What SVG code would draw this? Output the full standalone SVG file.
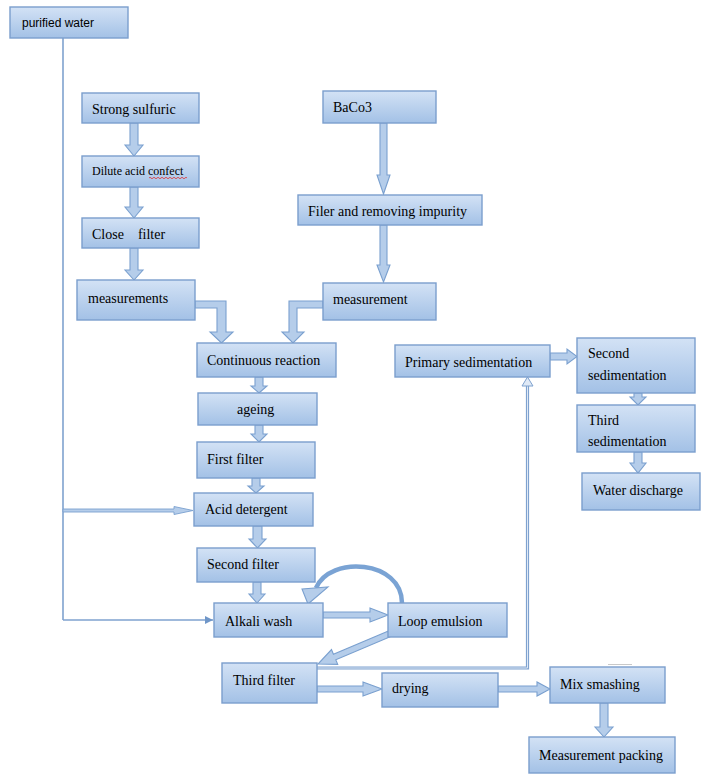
<svg xmlns="http://www.w3.org/2000/svg" width="714" height="780" viewBox="0 0 714 780">
<defs>
<linearGradient id="g" x1="0" y1="0" x2="0" y2="1">
<stop offset="0" stop-color="#d3e2f5"/>
<stop offset="1" stop-color="#a3c1e6"/>
</linearGradient>
<marker id="tri" viewBox="0 0 10 10" refX="10" refY="5" markerWidth="8" markerHeight="8" markerUnits="userSpaceOnUse" orient="auto">
<path d="M0,0 L10,5 L0,10 z" fill="#6f96c8"/>
</marker>
</defs>
<style>
.box{fill:url(#g);stroke:#7b9ecd;stroke-width:1.4}
.t{font-family:"Liberation Serif","Times New Roman",serif;font-size:14px;fill:#000}
.ts{font-family:"Liberation Sans",Arial,sans-serif;font-size:12px;fill:#000}
.ba{fill:#b5cdea;stroke:#7aa0cf;stroke-width:1.1;stroke-linejoin:miter}
.ln{fill:none;stroke:#7fa2cf;stroke-width:1.6}
</style>
<rect width="714" height="780" fill="#ffffff"/>

<g id="connectors">
<!-- purified water trunk -->
<polyline class="ln" points="63,38 63,620"/>
<!-- to Acid detergent (thin hollow arrow) -->
<polygon class="ba" points="63,509 174,509 174,506.5 193,510.5 174,514.5 174,512 63,512" style="stroke-width:0.9"/>
<!-- to Alkali wash -->
<line class="ln" x1="63" y1="620" x2="213" y2="620" marker-end="url(#tri)"/>

<!-- vertical small block arrows left column -->
<polygon class="ba" points="130,123 138,123 138,145 143,145 134,156 125,145 130,145"/>
<polygon class="ba" points="130,187 138,187 138,207 143,207 134,218 125,207 130,207"/>
<polygon class="ba" points="130,248 138,248 138,270 143,270 134,280 125,270 130,270"/>

<!-- BaCo3 column -->
<polygon class="ba" points="380,123 387,123 387,175 390,175 383.5,194 377,175 380,175"/>
<polygon class="ba" points="380,225 387,225 387,265 390,265 383.5,282 377,265 380,265"/>

<!-- elbow arrows into Continuous reaction -->
<polygon class="ba" points="195,301 226,301 226,332 233,332 221.5,343 210,332 217,332 217,308 195,308"/>
<polygon class="ba" points="323,301 289,301 289,332 282,332 293,343 304,332 297,332 297,308 323,308"/>

<!-- centre column -->
<polygon class="ba" points="255,377 263,377 263,386 267,386 259,393 251,386 255,386"/>
<polygon class="ba" points="255,425 263,425 263,434 267,434 259,442 251,434 255,434"/>
<polygon class="ba" points="252,478 260,478 260,486 264,486 256,493 248,486 252,486"/>
<polygon class="ba" points="253,526 262,526 262,539 266,539 257.5,548 249,539 253,539"/>
<polygon class="ba" points="253,582 261,582 261,594 265,594 257,603 249,594 253,594"/>

<!-- Alkali wash -> Loop emulsion -->
<polygon class="ba" points="323,612 370,612 370,608 388,615 370,622 370,618 323,618"/>

<!-- Loop emulsion -> Alkali wash (curved) -->
<path d="M402,603 C402,560 330,555 316,588" fill="none" stroke="#7aa3d4" stroke-width="4.5"/>
<polygon class="ba" points="302,589 328,587 308,604"/>

<!-- Loop emulsion -> Third filter (diagonal) -->
<polygon class="ba" points="387.8,631.2 333.4,654.2 331.5,649.6 318,664 337.7,664.4 335.8,659.8 390.2,636.8"/>

<!-- Third filter -> Primary sedimentation -->
<polyline points="317,668 527.5,668 527.5,379" fill="none" stroke="#7fa2cf" stroke-width="3.2"/>
<polyline points="317,668 527.5,668 527.5,380" fill="none" stroke="#dfe9f6" stroke-width="1"/>
<polygon points="522,386 527.5,377 533,386" fill="#dfe9f6" stroke="#7fa2cf" stroke-width="1"/>

<!-- faint stray line -->
<line x1="608" y1="664.5" x2="632" y2="664.5" stroke="#c9c9c9" stroke-width="1"/>

<!-- Third filter -> drying -->
<polygon class="ba" points="317,686 363,686 363,682 382,689 363,696 363,692 317,692"/>
<!-- drying -> Mix smashing -->
<polygon class="ba" points="498,686 537,686 537,682 550,689 537,696 537,692 498,692"/>
<!-- Mix smashing -> Measurement packing -->
<polygon class="ba" points="600,703 608,703 608,727 613,727 604,737 595,727 600,727"/>

<!-- sedimentation chain -->
<polygon class="ba" points="550,353 567,353 567,349 577,356.5 567,364 567,360 550,360"/>
<polygon class="ba" points="634,393 642,393 642,397 646,397 638,405 630,397 634,397"/>
<polygon class="ba" points="634,452 642,452 642,463 646,463 638,473 630,463 634,463"/>
</g>

<g id="n-purified-water"><rect class="box" x="10" y="7" width="118" height="31"/><text class="ts" x="22" y="27">purified water</text></g>
<g id="n-strong-sulfuric"><rect class="box" x="82" y="93" width="117" height="30"/><text class="t" x="92" y="114">Strong sulfuric</text></g>
<g id="n-dilute-acid"><rect class="box" x="82" y="156" width="117" height="31"/><text class="t" x="92" y="175" style="font-size:12px">Dilute acid confect</text><path d="M149,178 q1,-1.5 2,0 t2,0 t2,0 t2,0 t2,0 t2,0 t2,0 t2,0 t2,0 t2,0 t2,0 t2,0 t2,0 t2,0 t2,0 t2,0 t2,0 t2,0 t2,0" fill="none" stroke="#e03030" stroke-width="0.8"/></g>
<g id="n-close-filter"><rect class="box" x="82" y="218" width="117" height="30"/><text class="t" x="92" y="239" xml:space="preserve">Close    filter</text></g>
<g id="n-measurements"><rect class="box" x="77" y="280" width="118" height="40"/><text class="t" x="88" y="303">measurements</text></g>
<g id="n-baco3"><rect class="box" x="323" y="91" width="113" height="32"/><text class="t" x="333" y="112">BaCo3</text></g>
<g id="n-filer"><rect class="box" x="298" y="195" width="184" height="30"/><text class="t" x="308" y="216">Filer and removing impurity</text></g>
<g id="n-measurement"><rect class="box" x="323" y="283" width="113" height="37"/><text class="t" x="333" y="304">measurement</text></g>
<g id="n-continuous-reaction"><rect class="box" x="197" y="343" width="139" height="34"/><text class="t" x="207" y="365">Continuous reaction</text></g>
<g id="n-ageing"><rect class="box" x="198" y="393" width="119" height="32"/><text class="t" x="237" y="414">ageing</text></g>
<g id="n-first-filter"><rect class="box" x="197" y="442" width="118" height="36"/><text class="t" x="207" y="464">First filter</text></g>
<g id="n-acid-detergent"><rect class="box" x="194" y="493" width="119" height="33"/><text class="t" x="205" y="514">Acid detergent</text></g>
<g id="n-second-filter"><rect class="box" x="197" y="548" width="118" height="34"/><text class="t" x="207" y="569">Second filter</text></g>
<g id="n-alkali-wash"><rect class="box" x="214" y="603" width="109" height="34"/><text class="t" x="225" y="626">Alkali wash</text></g>
<g id="n-loop-emulsion"><rect class="box" x="388" y="603" width="119" height="34"/><text class="t" x="398" y="626">Loop emulsion</text></g>
<g id="n-third-filter"><rect class="box" x="222" y="663" width="95" height="40"/><text class="t" x="233" y="685">Third filter</text></g>
<g id="n-drying"><rect class="box" x="382" y="673" width="116" height="34"/><text class="t" x="392" y="693">drying</text></g>
<g id="n-mix-smashing"><rect class="box" x="550" y="667" width="115" height="36"/><text class="t" x="560" y="689">Mix smashing</text></g>
<g id="n-measurement-packing"><rect class="box" x="529" y="737" width="146" height="36"/><text class="t" x="539" y="760">Measurement packing</text></g>
<g id="n-primary-sedimentation"><rect class="box" x="395" y="345" width="155" height="32"/><text class="t" x="405" y="367">Primary sedimentation</text></g>
<g id="n-second-sedimentation"><rect class="box" x="577" y="338" width="118" height="55"/><text class="t" x="588" y="358">Second</text><text class="t" x="588" y="380">sedimentation</text></g>
<g id="n-third-sedimentation"><rect class="box" x="577" y="405" width="118" height="47"/><text class="t" x="588" y="425">Third</text><text class="t" x="588" y="446">sedimentation</text></g>
<g id="n-water-discharge"><rect class="box" x="582" y="473" width="118" height="37"/><text class="t" x="593" y="495">Water discharge</text></g>
</svg>
